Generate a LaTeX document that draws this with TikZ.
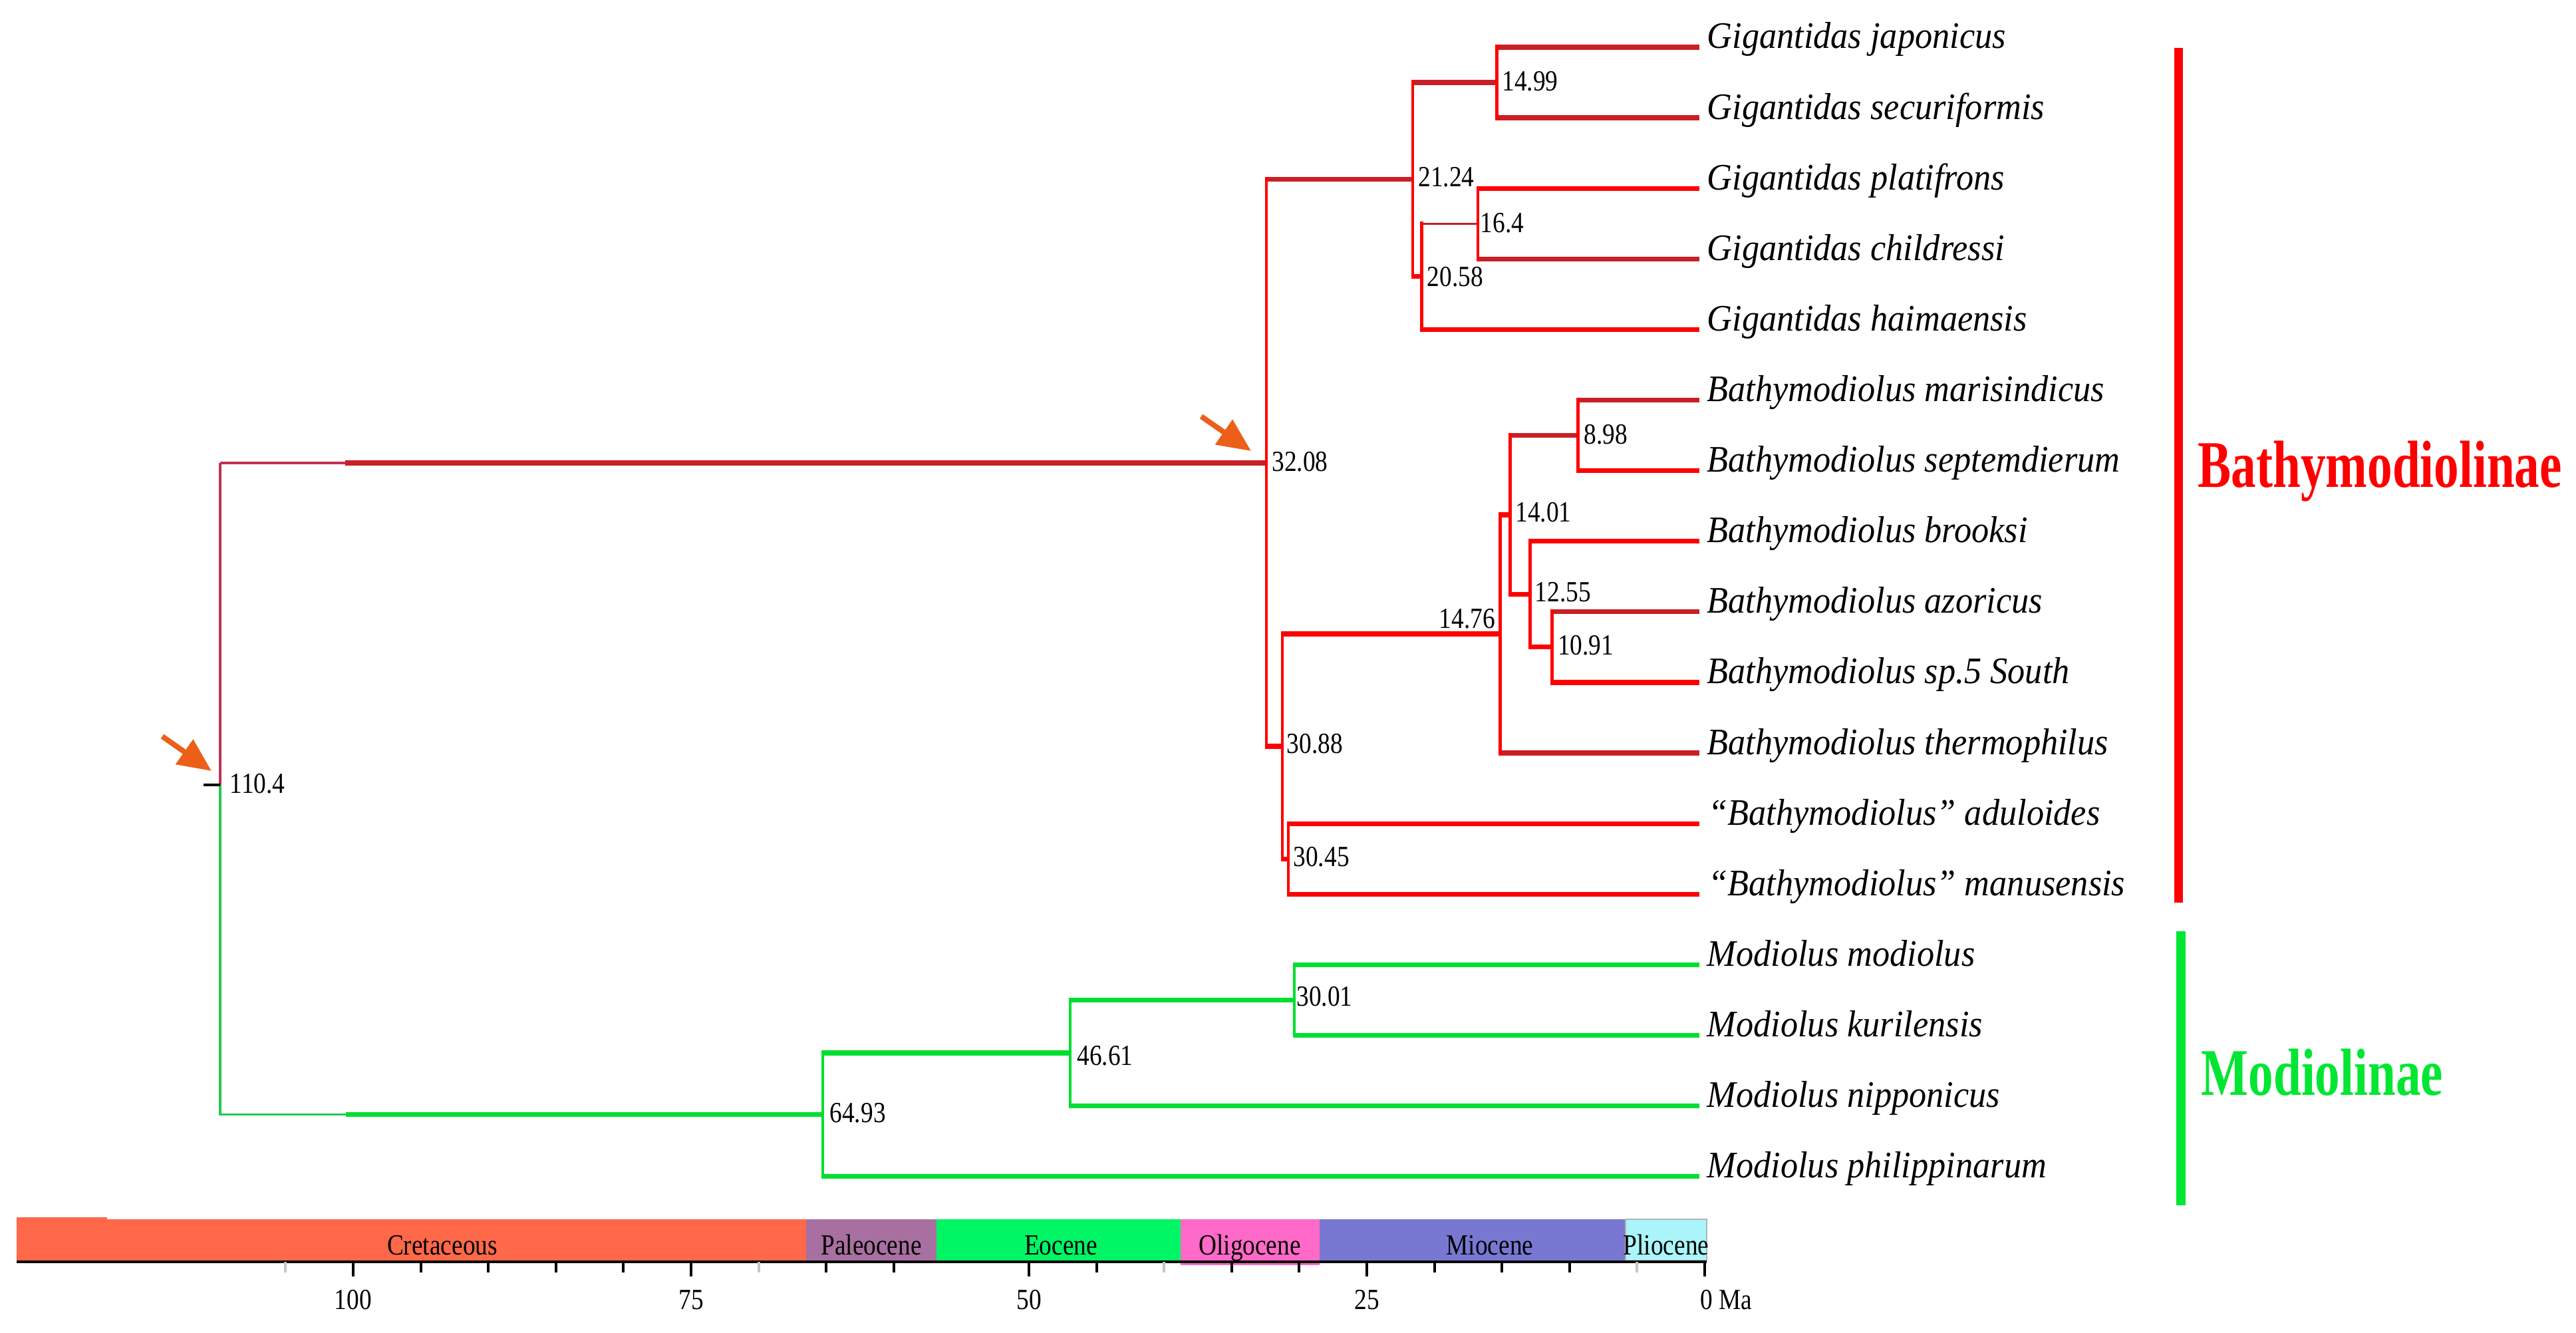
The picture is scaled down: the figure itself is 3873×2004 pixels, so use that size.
\documentclass[tikz,border=0pt]{standalone}
\usepackage{fontspec}
\setmainfont{Liberation Serif}
\usepackage{graphicx}
\usetikzlibrary{arrows.meta}
\definecolor{bred}{RGB}{255,0,0}
\definecolor{dred}{RGB}{200,32,38}
\definecolor{bgreen}{RGB}{0,222,50}
\definecolor{cladegreen}{RGB}{0,230,50}
\definecolor{rootpur}{RGB}{190,50,85}
\definecolor{rootgrn}{RGB}{40,200,80}
\definecolor{arrorange}{RGB}{235,95,25}
\definecolor{cret}{RGB}{255,104,72}
\definecolor{paleo}{RGB}{168,112,160}
\definecolor{eoc}{RGB}{0,245,100}
\definecolor{oligo}{RGB}{255,105,200}
\definecolor{mioc}{RGB}{120,120,210}
\definecolor{plioc}{RGB}{170,245,250}
\newcommand{\splab}[1]{\scalebox{0.93}[1]{\fontsize{16}{19}\selectfont\itshape #1}}
\newcommand{\nlab}[1]{\scalebox{0.85}[1]{\fontsize{12.5}{15}\selectfont #1}}
\newcommand{\cladelab}[1]{\scalebox{0.75}[1]{\fontsize{28.5}{32}\selectfont\bfseries #1}}
\begin{document}
\begin{tikzpicture}[x=0.01cm,y=-0.01cm,
  hthick/.style={line width=0.072cm},
  vthick/.style={line width=0.046cm, shorten <=-0.036cm, shorten >=-0.036cm},
  thinln/.style={line width=0.032cm},
  splabel/.style={anchor=base west, inner sep=0pt},
  nlabel/.style={anchor=west, inner sep=0pt},
  perlabel/.style={anchor=base, inner sep=0pt},
  ticklab/.style={anchor=base, inner sep=0pt},
  minortick/.style={line width=0.04cm},
  majortick/.style={line width=0.042cm},
  bigarrow/.style={arrorange, line width=0.08cm,
    -{Triangle[length=0.5cm,width=0.44cm]}}]
\useasboundingbox[fill=white] (0,0) rectangle (3873,2004);

% ---------- leaves ----------
\coordinate (l0) at (2555,71.0);
\coordinate (l1) at (2555,177.1);
\coordinate (l2) at (2555,283.2);
\coordinate (l3) at (2555,389.3);
\coordinate (l4) at (2555,495.4);
\coordinate (l5) at (2555,601.5);
\coordinate (l6) at (2555,707.6);
\coordinate (l7) at (2555,813.7);
\coordinate (l8) at (2555,919.8);
\coordinate (l9) at (2555,1025.9);
\coordinate (l10) at (2555,1132.0);
\coordinate (l11) at (2555,1238.1);
\coordinate (l12) at (2555,1344.2);
\coordinate (l13) at (2555,1450.3);
\coordinate (l14) at (2555,1556.4);
\coordinate (l15) at (2555,1662.5);
\coordinate (l16) at (2555,1768.6);

% ---------- internal nodes ----------
\coordinate (n1499) at (2250.7,124.05);
\coordinate (n164) at (2222.1,336.25);
\coordinate (n2058) at (2137.2,415.8);
\coordinate (n2124) at (2123.8,269.9);
\coordinate (n898) at (2372.7,654.55);
\coordinate (n1091) at (2333.5,972.85);
\coordinate (n1255) at (2300.2,893.3);
\coordinate (n1401) at (2270.6,773.9);
\coordinate (n1476) at (2255.4,952.95);
\coordinate (n3045) at (1936.9,1291.15);
\coordinate (n3088) at (1928.1,1122.05);
\coordinate (n3208) at (1903.8,696.0);
\coordinate (n3001) at (1945.8,1503.35);
\coordinate (n4661) at (1608.8,1582.9);
\coordinate (n6493) at (1236.9,1675.75);
\coordinate (root) at (331,1180);
\coordinate (rtick) at (306,1180);
\coordinate (rbr1) at (519,696.0);
\coordinate (rbr2) at (520,1675.75);

% ---------- Bathymodiolinae ----------
% horizontals
\draw[hthick,dred] (rbr1) -- (n3208);
\draw[hthick,dred] (n3208 |- n2124) -- (n2124);
\draw[hthick,bred] (n3208 |- n3088) -- (n3088);
\draw[hthick,dred] (n2124 |- n1499) -- (n1499);
\draw[hthick,bred] (n2124 |- n2058) -- (n2058);
\draw[hthick,dred] (n1499 |- l0) -- (l0);
\draw[hthick,dred] (n1499 |- l1) -- (l1);
\draw[thinln,dred] (n2058 |- n164) -- (n164);
\draw[hthick,bred] (n2058 |- l4) -- (l4);
\draw[hthick,bred] (n164 |- l2) -- (l2);
\draw[hthick,dred] (n164 |- l3) -- (l3);
\draw[hthick,bred] (n3088 |- n1476) -- (n1476);
\draw[hthick,bred] (n3088 |- n3045) -- (n3045);
\draw[hthick,bred] (n1476 |- n1401) -- (n1401);
\draw[hthick,dred] (n1476 |- l10) -- (l10);
\draw[hthick,dred] (n1401 |- n898) -- (n898);
\draw[hthick,bred] (n1401 |- n1255) -- (n1255);
\draw[hthick,dred] (n898 |- l5) -- (l5);
\draw[hthick,bred] (n898 |- l6) -- (l6);
\draw[hthick,bred] (n1255 |- l7) -- (l7);
\draw[hthick,bred] (n1255 |- n1091) -- (n1091);
\draw[hthick,dred] (n1091 |- l8) -- (l8);
\draw[hthick,bred] (n1091 |- l9) -- (l9);
\draw[hthick,bred] (n3045 |- l11) -- (l11);
\draw[hthick,bred] (n3045 |- l12) -- (l12);
% verticals
\draw[vthick,bred] (n3208 |- n2124) -- (n3208 |- n3088);
\draw[vthick,bred] (n2124 |- n1499) -- (n2124 |- n2058);
\draw[vthick,bred] (n1499 |- l0) -- (n1499 |- l1);
\draw[vthick,bred] (n2058 |- n164) -- (n2058 |- l4);
\draw[vthick,bred] (n164 |- l2) -- (n164 |- l3);
\draw[vthick,bred] (n3088 |- n1476) -- (n3088 |- n3045);
\draw[vthick,bred] (n1476 |- n1401) -- (n1476 |- l10);
\draw[vthick,bred] (n1401 |- n898) -- (n1401 |- n1255);
\draw[vthick,bred] (n898 |- l5) -- (n898 |- l6);
\draw[vthick,bred] (n1255 |- l7) -- (n1255 |- n1091);
\draw[vthick,bred] (n1091 |- l8) -- (n1091 |- l9);
\draw[vthick,bred] (n3045 |- l11) -- (n3045 |- l12);

% ---------- Modiolinae ----------
\draw[hthick,bgreen] (rbr2) -- (n6493);
\draw[hthick,bgreen] (n6493 |- n4661) -- (n4661);
\draw[hthick,bgreen] (n6493 |- l16) -- (l16);
\draw[hthick,bgreen] (n4661 |- n3001) -- (n3001);
\draw[hthick,bgreen] (n4661 |- l15) -- (l15);
\draw[hthick,bgreen] (n3001 |- l13) -- (l13);
\draw[hthick,bgreen] (n3001 |- l14) -- (l14);
\draw[vthick,bgreen] (n6493 |- n4661) -- (n6493 |- l16);
\draw[vthick,bgreen] (n4661 |- n3001) -- (n4661 |- l15);
\draw[vthick,bgreen] (n3001 |- l13) -- (n3001 |- l14);

% ---------- root ----------
\draw[thinln,rootpur] (root |- n3208) -- (rbr1);
\draw[thinln,rootpur] (root |- n3208) -- (root);
\draw[thinln,rootgrn] (root) -- (root |- n6493) -- (rbr2);
\draw[thinln,black] (rtick) -- (root);

% ---------- node ages ----------
\node[nlabel] (a1104) at ([shift={(14,-2)}]root) {\nlab{110.4}};
\node[nlabel] (a3208) at ([shift={(8,-2)}]n3208) {\nlab{32.08}};
\node[nlabel] (a2124) at ([shift={(8,-4)}]n2124) {\nlab{21.24}};
\node[nlabel] (a1499) at ([shift={(7,-2)}]n1499) {\nlab{14.99}};
\node[nlabel] (a164) at ([shift={(3,-1)}]n164) {\nlab{16.4}};
\node[nlabel] (a2058) at ([shift={(8,0)}]n2058) {\nlab{20.58}};
\node[nlabel] (a898) at ([shift={(8,-1)}]n898) {\nlab{8.98}};
\node[nlabel] (a1401) at ([shift={(7,-4)}]n1401) {\nlab{14.01}};
\node[nlabel] (a1255) at ([shift={(7,-3)}]n1255) {\nlab{12.55}};
\node[nlabel] (a1091) at ([shift={(8,-3)}]n1091) {\nlab{10.91}};
\node[anchor=base east, inner sep=0pt] (a1476) at ([shift={(-7,-8)}]n1476) {\nlab{14.76}};
\node[nlabel] (a3088) at ([shift={(6,-4)}]n3088) {\nlab{30.88}};
\node[nlabel] (a3045) at ([shift={(7,-3)}]n3045) {\nlab{30.45}};
\node[nlabel] (a3001) at ([shift={(3,-5)}]n3001) {\nlab{30.01}};
\node[nlabel] (a4661) at ([shift={(10,4)}]n4661) {\nlab{46.61}};
\node[nlabel] (a6493) at ([shift={(10,-3)}]n6493) {\nlab{64.93}};

% ---------- species ----------
\node[splabel] (t0) at ([shift={(11,2)}]l0) {\splab{Gigantidas japonicus}};
\node[splabel] (t1) at ([shift={(11,2)}]l1) {\splab{Gigantidas securiformis}};
\node[splabel] (t2) at ([shift={(11,2)}]l2) {\splab{Gigantidas platifrons}};
\node[splabel] (t3) at ([shift={(11,2)}]l3) {\splab{Gigantidas childressi}};
\node[splabel] (t4) at ([shift={(11,2)}]l4) {\splab{Gigantidas haimaensis}};
\node[splabel] (t5) at ([shift={(11,2)}]l5) {\splab{Bathymodiolus marisindicus}};
\node[splabel] (t6) at ([shift={(11,2)}]l6) {\splab{Bathymodiolus septemdierum}};
\node[splabel] (t7) at ([shift={(11,2)}]l7) {\splab{Bathymodiolus brooksi}};
\node[splabel] (t8) at ([shift={(11,2)}]l8) {\splab{Bathymodiolus azoricus}};
\node[splabel] (t9) at ([shift={(11,2)}]l9) {\splab{Bathymodiolus sp.5 South}};
\node[splabel] (t10) at ([shift={(11,2)}]l10) {\splab{Bathymodiolus thermophilus}};
\node[splabel] (t11) at ([shift={(13,2)}]l11) {\splab{“Bathymodiolus” aduloides}};
\node[splabel] (t12) at ([shift={(13,2)}]l12) {\splab{“Bathymodiolus” manusensis}};
\node[splabel] (t13) at ([shift={(11,2)}]l13) {\splab{Modiolus modiolus}};
\node[splabel] (t14) at ([shift={(11,2)}]l14) {\splab{Modiolus kurilensis}};
\node[splabel] (t15) at ([shift={(11,2)}]l15) {\splab{Modiolus nipponicus}};
\node[splabel] (t16) at ([shift={(11,2)}]l16) {\splab{Modiolus philippinarum}};

% ---------- clade bars ----------
\coordinate (rb1) at (3275,72);
\coordinate (rb2) at (3275,1357);
\coordinate (gb1) at (3279,1400);
\coordinate (gb2) at (3279,1812);
\draw[line width=0.13cm,bred] (rb1) -- (rb2);
\draw[line width=0.14cm,cladegreen] (gb1) -- (gb2);
\node[anchor=base west, inner sep=0pt, text=bred] (cb) at (3304,733) {\cladelab{Bathymodiolinae}};
\node[anchor=base west, inner sep=0pt, text=cladegreen] (cm) at (3309,1646) {\cladelab{Modiolinae}};

% ---------- arrows ----------
\coordinate (ar1s) at (244,1107);
\coordinate (ar1e) at (318,1159);
\coordinate (ar2s) at (1806,626);
\coordinate (ar2e) at (1881,678);
\draw[bigarrow] (ar1s) -- (ar1e);
\draw[bigarrow] (ar2s) -- (ar2e);

% ---------- time scale ----------
\fill[cret] (25,1830) rectangle (161,1895);
\fill[cret] (25,1833) rectangle (1212,1895);
\fill[paleo] (1212,1833) rectangle (1408,1895);
\fill[eoc] (1408,1833) rectangle (1775,1895);
\fill[oligo] (1775,1833) rectangle (1984,1902);
\fill[mioc] (1984,1833) rectangle (2444,1895);
\filldraw[fill=plioc, draw=gray!60, line width=0.02cm] (2444,1833) rectangle (2566,1895);
\coordinate (axL) at (25,1897);
\coordinate (axR) at (2566,1897);
\draw[line width=0.045cm,black] (axL) -- (axR);
\foreach \m in {95,90,85,80,65,60,45,35,30,20,15,10}
  \draw[minortick] ({2563-20.32*\m},1897) -- ++(0,16);
\foreach \m in {105,70,40,5}
  \draw[minortick,gray!45] ({2563-20.32*\m},1897) -- ++(0,16);
\foreach \m in {100,75,50,25,0}
  \draw[majortick] ({2563-20.32*\m},1897) -- ++(0,22);

\node[perlabel] (pcret) at (665,1886) {\nlab{Cretaceous}};
\node[perlabel] (ppal) at (1310,1886) {\nlab{Paleocene}};
\node[perlabel] (peoc) at (1595,1886) {\nlab{Eocene}};
\node[perlabel] (poli) at (1879,1886) {\nlab{Oligocene}};
\node[perlabel] (pmio) at (2240,1886) {\nlab{Miocene}};
\node[perlabel] (pplio) at (2505,1886) {\nlab{Pliocene}};

\node[ticklab] (t100) at (531,1968) {\nlab{100}};
\node[ticklab] (t75) at (1039,1968) {\nlab{75}};
\node[ticklab] (t50) at (1547,1968) {\nlab{50}};
\node[ticklab] (t25) at (2055,1968) {\nlab{25}};
\node[anchor=base west, inner sep=0pt] (t0ma) at (2556,1968) {\nlab{0 Ma}};
\end{tikzpicture}
\end{document}
